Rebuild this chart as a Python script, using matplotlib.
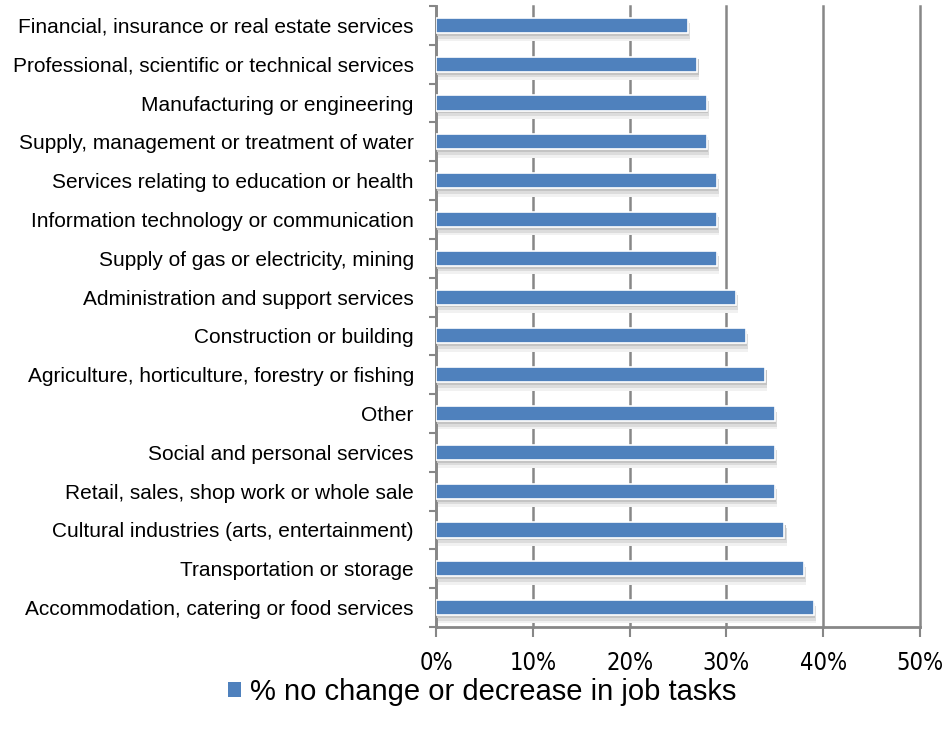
import matplotlib
matplotlib.use('Agg')
import matplotlib.pyplot as plt
import matplotlib.patheffects as pe
from matplotlib.ticker import FixedLocator, FuncFormatter
from matplotlib.patches import Patch

categories = ['Financial, insurance or real estate services',
	'Professional, scientific or technical services',
	'Manufacturing or engineering',
	'Supply, management or treatment of water',
	'Services relating to education or health',
	'Information technology or communication',
	'Supply of gas or electricity, mining',
	'Administration and support services',
	'Construction or building',
	'Agriculture, horticulture, forestry or fishing',
	'Other',
	'Social and personal services',
	'Retail, sales, shop work or whole sale',
	'Cultural industries (arts, entertainment)',
	'Transportation or storage',
	'Accommodation, catering or food services']
values = [26, 27, 28, 28, 29, 29, 29, 31, 32, 34, 35, 35, 35, 36, 38, 39]
xticks = [0, 10, 20, 30, 40, 50]
series_name = '% no change or decrease in job tasks'

barcolor = '#4f81bd'
gridcolor = '#878787'

fig = plt.figure(figsize=(9.45, 7.38), dpi=100)
ax = fig.add_axes([436/945., 1-627/738., (920-436)/945., (627-6)/738.])

ypos = list(range(len(categories)))
bars = ax.barh(ypos, values, height=0.39, color=barcolor, edgecolor='white', linewidth=1.2, zorder=3)
#soft drop shadow under each bar
for b in bars:
	b.set_path_effects([pe.SimplePatchShadow(offset=(1.5, -6), shadow_rgbFace='#f1f1f1', alpha=1),
		pe.SimplePatchShadow(offset=(1.5, -4), shadow_rgbFace='#dcdcdc', alpha=1),
		pe.SimplePatchShadow(offset=(1, -2), shadow_rgbFace='#c4c4c4', alpha=1),
		pe.Normal()])

ax.set_xlim(0, 50)
ax.set_ylim(len(categories)-0.5, -0.5)
ax.xaxis.set_major_locator(FixedLocator(xticks))
ax.xaxis.set_major_formatter(FuncFormatter(lambda v, p: '%d%%' % v))
ax.grid(axis='x', color=gridcolor, linewidth=1.8, zorder=0)
for gl in ax.get_xgridlines():
	gl.set_clip_on(False)

ax.set_yticks(ypos)
ax.set_yticklabels(categories, fontsize=15, family='Liberation Sans')
ax.set_yticks([i-0.5 for i in range(len(categories)+1)], minor=True)
ax.tick_params(axis='y', which='major', length=0, pad=16)
ax.tick_params(axis='y', which='minor', length=5, width=1.5, color=gridcolor)
ax.tick_params(axis='x', length=7, width=1.5, color=gridcolor, pad=10)
for lab in ax.get_xticklabels():
	lab.set_family('DejaVu Sans')
	lab.set_stretch('condensed')
	lab.set_fontsize(17)

for s in ['top', 'right']:
	ax.spines[s].set_visible(False)
for s in ['left', 'bottom']:
	ax.spines[s].set_color(gridcolor)
	ax.spines[s].set_linewidth(2)

handle = Patch(facecolor=barcolor, edgecolor='none')
fig.legend([handle], [series_name], loc='center', bbox_to_anchor=(0.51, 1-692/738.), frameon=False,
	prop={'family': 'Liberation Sans', 'size': 21}, handlelength=0.45, handleheight=0.45, handletextpad=0.3)

plt.savefig('out.png', dpi=100)
